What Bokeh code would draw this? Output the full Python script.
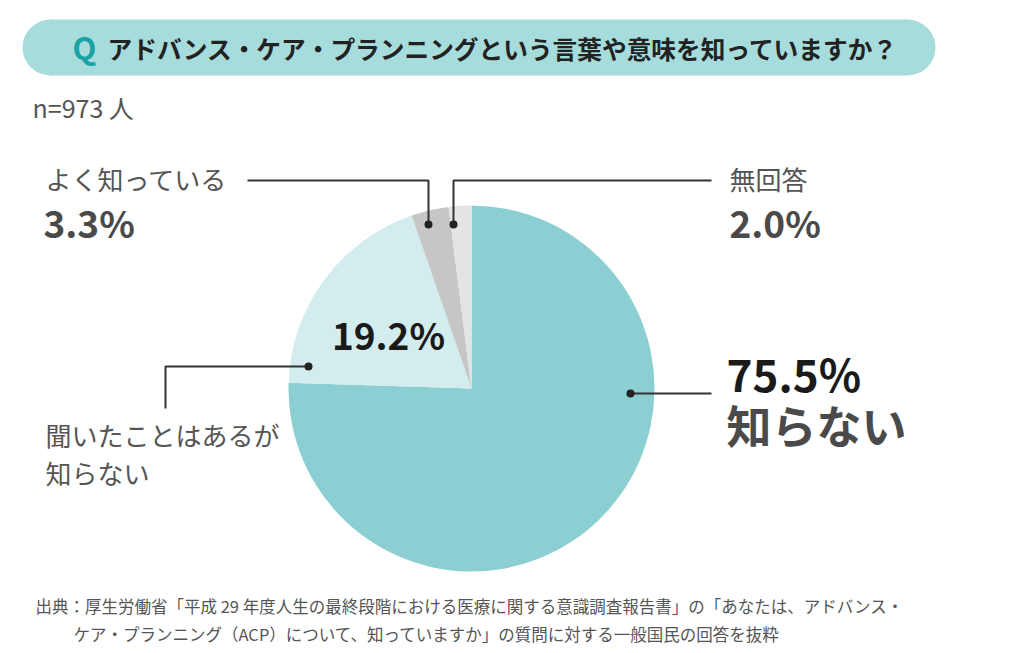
import math
from bokeh.plotting import figure
from bokeh.models import Range1d, ColumnDataSource
from bokeh.core.properties import value
from bokeh.embed import file_html
from bokeh.resources import INLINE

# ---- data ----
categories = ["知らない", "聞いたことはあるが知らない", "よく知っている", "無回答"]
values = [75.5, 19.2, 3.3, 2.0]
pct_labels = ["75.5%", "19.2%", "3.3%", "2.0%"]
colors = ["#8ccfd2", "#d3ecee", "#c6c6c6", "#e4e4e4"]
n_label = "n=973 人"
title = "アドバンス・ケア・プランニングという言葉や意味を知っていますか？"
source_lines = [
    "出典：厚生労働省「平成 29 年度人生の最終段階における医療に関する意識調査報告書」の「あなたは、アドバンス・",
    "ケア・プランニング（ACP）について、知っていますか」の質問に対する一般国民の回答を抜粋",
]

W, H = 1024, 653
PW, PH = 1008, 645
FONT = value("Noto Sans CJK JP")


def Y(py):
    return H - py


p = figure(width=PW, height=PH, output_backend="svg", toolbar_location=None,
           x_range=Range1d(0, PW), y_range=Range1d(H - PH, H),
           min_border=0, outline_line_color=None)
p.axis.visible = False
p.grid.visible = False
p.background_fill_color = "white"
p.border_fill_color = "white"

# ---- header pill ----
pill_col = "#a6dcdc"
p.quad(left=[50], right=[907], top=[Y(19)], bottom=[Y(75)], fill_color=pill_col, line_color=None)
p.circle(x=[50, 907], y=[Y(47), Y(47)], radius=28, fill_color=pill_col, line_color=None)
p.text(x=[84], y=[Y(46)], text=["Q"], text_font=FONT, text_font_style="bold",
       text_font_size="31px", text_color="#1aa2a5", text_align="center", text_baseline="middle")
p.text(x=[107], y=[Y(47)], text=[title], text_font=FONT, text_font_style="bold",
       text_font_size="24.7px", text_color="#222222", text_align="left", text_baseline="middle")

p.text(x=[32], y=[Y(106)], text=[n_label], text_font=FONT, text_font_size="25px",
       text_color="#555555", text_baseline="middle")

# ---- pie ----
cx, cy, r = 471, Y(388), 183
starts, ends = [], []
cum = 0.0
total = sum(values)
for v in values:
    starts.append(math.pi / 2 - 2 * math.pi * cum / total)
    cum += v
    ends.append(math.pi / 2 - 2 * math.pi * cum / total)
src = ColumnDataSource(dict(cat=categories, val=values, start=starts, end=ends, color=colors))
p.wedge(x=cx, y=cy, radius=r, start_angle="start", end_angle="end", direction="clock",
        fill_color="color", line_color=None, source=src)

# ---- leader lines ----
lc = "#333333"
lw = 2
p.line(x=[247, 428, 428], y=[Y(180), Y(180), Y(224)], line_color=lc, line_width=lw)
p.line(x=[453, 453, 711], y=[Y(224), Y(180), Y(180)], line_color=lc, line_width=lw)
p.line(x=[308, 165, 165], y=[Y(366), Y(366), Y(408)], line_color=lc, line_width=lw)
p.line(x=[630, 711], y=[Y(393), Y(393)], line_color=lc, line_width=lw)
p.scatter(x=[428, 453, 308, 630], y=[Y(224), Y(224), Y(366), Y(393)], size=8,
          fill_color="#222222", line_color=None)

# ---- labels ----
lab_col = "#555555"
pct_col = "#4a4a4a"
p.text(x=[45], y=[Y(178)], text=[categories[2]], text_font=FONT, text_font_size="26px",
       text_color=lab_col, text_baseline="middle")
p.text(x=[43], y=[Y(221)], text=[pct_labels[2]], text_font=FONT, text_font_style="bold",
       text_font_size="37px", text_color=pct_col, text_baseline="middle")
p.text(x=[729], y=[Y(178)], text=[categories[3]], text_font=FONT, text_font_size="26px",
       text_color=lab_col, text_baseline="middle")
p.text(x=[729], y=[Y(221)], text=[pct_labels[3]], text_font=FONT, text_font_style="bold",
       text_font_size="37px", text_color=pct_col, text_baseline="middle")
p.text(x=[388], y=[Y(333)], text=[pct_labels[1]], text_font=FONT, text_font_style="bold",
       text_font_size="37px", text_color="#1a1a1a", text_align="center", text_baseline="middle")
p.text(x=[45, 45], y=[Y(434), Y(472)], text=["聞いたことはあるが", "知らない"], text_font=FONT,
       text_font_size="26px", text_color=lab_col, text_baseline="middle")
p.text(x=[726], y=[Y(372)], text=[pct_labels[0]], text_font=FONT, text_font_style="bold",
       text_font_size="44px", text_color="#1a1a1a", text_baseline="middle")
p.text(x=[726], y=[Y(424)], text=[categories[0]], text_font=FONT, text_font_style="bold",
       text_font_size="45px", text_color=pct_col, text_baseline="middle")

# ---- source ----
p.text(x=[35, 73], y=[Y(605), Y(633)], text=source_lines, text_font=FONT,
       text_font_size="16.5px", text_color="#555555", text_baseline="middle")

open("out.html", "w").write(file_html(p, INLINE))
